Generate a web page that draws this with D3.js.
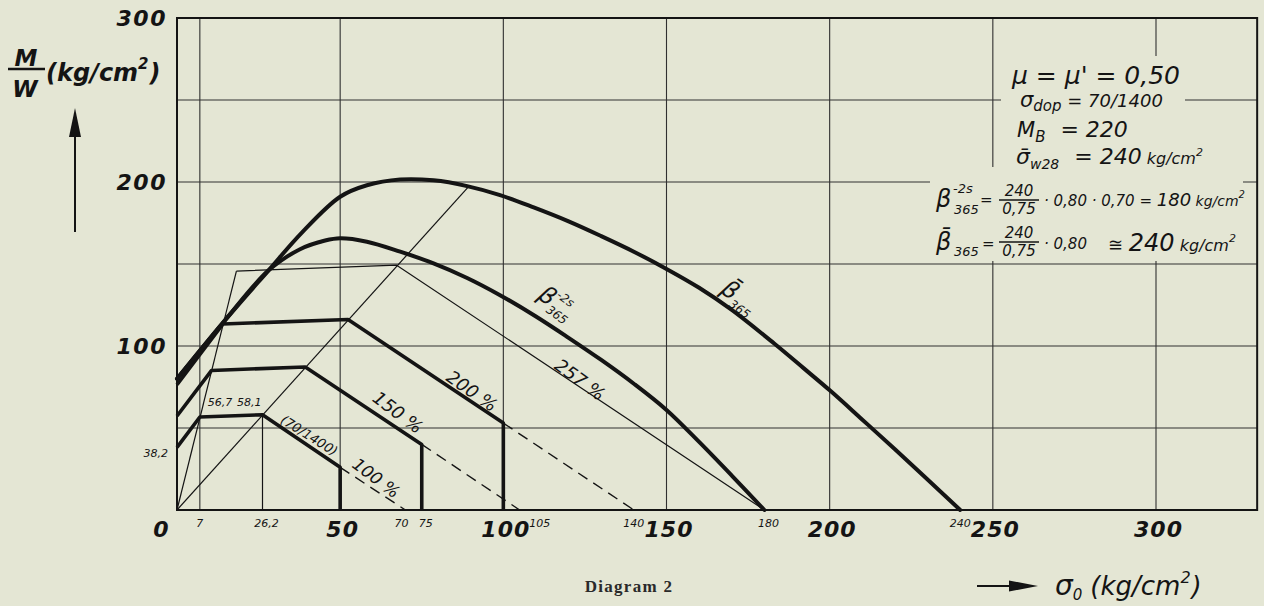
<!DOCTYPE html>
<html>
<head>
<meta charset="utf-8">
<script src="https://cdn.jsdelivr.net/npm/d3@7"></script>
<style>
  html, body { margin: 0; padding: 0; background: #e4e6d4; }
  svg { display: block; }
</style>
</head>
<body>
<svg id="chart" width="1264" height="606"></svg>
<script>
// values: x = sigma_0, y = M/W (both kg/cm2)
const xTickLabels = [0, 50, 100, 150, 200, 250, 300];
const yTickLabels = [100, 200, 300];
const xGridValues = [7, 50, 100, 150, 200, 250, 300];
const yGridValues = [50, 100, 150, 200, 250];
const xSmallValues = [7, 26.2, 70, 75, 105, 140, 180, 240];
const xSmallLabels = ['7', '26,2', '70', '75', '105', '140', '180', '240'];

// allowable-stress polylines (70/1400) at 100 %, 150 %, 200 %, 257 %
const allow100 = [[0, 38.2], [7, 56.7], [26.2, 58.1], [50, 26], [50, 0]];
const allow150 = [[0, 57.3], [10.6, 85.1], [39.3, 87.2], [75, 40], [75, 0]];
const allow200 = [[0, 76.4], [14.1, 113.4], [52.4, 116.2], [100, 53], [100, 0]];
const allow257 = [[18.2, 145.7], [67.3, 149.3], [180, 0]];
const tail100 = [[50, 26], [70, 0]];
const tail150 = [[75, 40], [105, 0]];
const tail200 = [[100, 53], [140, 0]];

// construction rays from the origin and the 26,2 ordinate
const rayPlateauStart = [[0, 0], [18.2, 145.7]];
const rayPlateauEnd = [[0, 0], [89.5, 197.5]];
const ordinate262 = [[26.2, 0], [26.2, 58.1]];

// failure curves
const betaMean = [[0, 80], [14.2, 114.5], [28, 146], [38.2, 169], [50, 191], [58.2, 198],
  [68.4, 201.5], [78.6, 201], [88.9, 197.5], [99, 192], [109.3, 184.5], [120, 176],
  [130, 167], [140, 157.5], [150, 147], [160, 135.5], [170, 122], [183, 101.5],
  [192, 86.5], [200.3, 72.5], [209.5, 56], [220, 37], [240, 0]];
const beta2s = [[0, 80], [14.2, 114.5], [28, 146], [37.7, 159], [45.4, 164.3], [50, 165.7],
  [58.2, 163.6], [68.4, 157.5], [78.6, 150.4], [88.9, 141.5], [99, 131], [110, 118],
  [120, 105], [130, 91.5], [140, 77], [150, 61], [160, 41.5], [170, 21], [180, 0]];

const ink = '#141414';
const paper = '#e4e6d4';
const numFont = '"DejaVu Sans", sans-serif';

const svg = d3.select('#chart');
svg.append('rect').attr('width', 1264).attr('height', 606).attr('fill', paper);

const x = d3.scaleLinear().domain([0, 300]).range([177, 1156]);
const y = d3.scaleLinear().domain([0, 300]).range([510, 18]);
const xEdge = 331; // right border of the frame, in sigma_0 units

// grid
const grid = svg.append('g').attr('stroke', '#303030').attr('stroke-width', 1.1);
grid.selectAll('line.v').data(xGridValues).enter().append('line')
  .attr('x1', d => x(d)).attr('x2', d => x(d))
  .attr('y1', y(0)).attr('y2', y(300));
grid.selectAll('line.h').data(yGridValues).enter().append('line')
  .attr('x1', x(0)).attr('x2', x(xEdge))
  .attr('y1', d => y(d)).attr('y2', d => y(d));

// the formula block sits on a clear patch of the grid
svg.append('rect').attr('x', 1001).attr('y', 56).attr('width', 184).attr('height', 112).attr('fill', paper);
svg.append('rect').attr('x', 930).attr('y', 167).attr('width', 313).attr('height', 94).attr('fill', paper);

// frame
svg.append('rect')
  .attr('x', x(0)).attr('y', y(300))
  .attr('width', x(xEdge) - x(0)).attr('height', y(0) - y(300))
  .attr('fill', 'none').attr('stroke', ink).attr('stroke-width', 2);

const line = d3.line().x(d => x(d[0])).y(d => y(d[1]));
const smooth = d3.line().x(d => x(d[0])).y(d => y(d[1])).curve(d3.curveCatmullRom.alpha(0.5));

const marks = svg.append('g').attr('fill', 'none').attr('stroke', ink)
  .attr('stroke-linejoin', 'round');

// thin construction lines
[rayPlateauStart, rayPlateauEnd, ordinate262, allow257].forEach(pts => {
  marks.append('path').attr('d', line(pts)).attr('stroke-width', 1.2);
});
// dashed continuations
[tail100, tail150, tail200].forEach(pts => {
  marks.append('path').attr('d', line(pts)).attr('stroke-width', 1.4)
    .attr('stroke-dasharray', '11,7');
});
// thick allowable-stress lines
[allow100, allow150, allow200].forEach(pts => {
  marks.append('path').attr('d', line(pts)).attr('stroke-width', 3.6);
});
// failure curves
[betaMean, beta2s].forEach(pts => {
  marks.append('path').attr('d', smooth(pts)).attr('stroke-width', 4)
    .attr('stroke-linecap', 'round');
});

// axes (labels only)
const xAxis = svg.append('g').attr('transform', `translate(0,${y(0)})`)
  .call(d3.axisBottom(x).tickValues(xTickLabels).tickSize(0).tickFormat(d3.format('d')));
xAxis.select('.domain').remove();
xAxis.selectAll('text')
  .attr('y', 27).attr('dy', 0)
  .attr('x', d => d === 0 ? -16 : 2)
  .attr('fill', ink)
  .style('font', `italic bold 22px ${numFont}`)
  .style('letter-spacing', '1px');

const yAxis = svg.append('g').attr('transform', `translate(${x(0)},0)`)
  .call(d3.axisLeft(y).tickValues(yTickLabels).tickSize(0).tickPadding(10));
yAxis.select('.domain').remove();
yAxis.selectAll('text')
  .attr('dy', '0.36em')
  .attr('fill', ink)
  .style('font', `italic bold 22px ${numFont}`)
  .style('letter-spacing', '1.5px');

// small values along the sigma_0 axis
const smallShift = { 70: -4, 75: 4, 105: 20, 26.2: 4, 180: 4 };
svg.append('g').selectAll('text').data(xSmallValues).enter().append('text')
  .attr('x', d => x(d) + (smallShift[d] || 0))
  .attr('y', y(0) + 17)
  .attr('text-anchor', 'middle')
  .attr('fill', ink)
  .style('font', `italic 11px ${numFont}`)
  .text((d, i) => xSmallLabels[i]);

// small values at the 100 % line
const smallText = (tx, ty, s, anchor) => svg.append('text')
  .attr('x', tx).attr('y', ty).attr('text-anchor', anchor || 'start')
  .attr('fill', ink).style('font', `italic 11px ${numFont}`).text(s);
smallText(x(0) - 9, y(38.2) + 10, '38,2', 'end');
smallText(x(7) + 8, y(58.1) - 9, '56,7', 'start');
smallText(x(26.2) - 1, y(58.1) - 9, '58,1', 'end');

// labels written along the lines
function slanted(cx, cy, angle) {
  return svg.append('g').attr('transform', `translate(${x(cx)},${y(cy)}) rotate(${angle})`)
    .attr('fill', ink);
}
const lineLabels = [
  { s: '(70/1400)', at: [40.5, 45.5], a: 32, size: 13 },
  { s: '100 %', at: [61, 19.5], a: 37, size: 17 },
  { s: '150 %', at: [67.7, 59.5], a: 37, size: 18 },
  { s: '200 %', at: [90.4, 72.5], a: 35, size: 18 },
  { s: '257 %', at: [123.5, 79.5], a: 36, size: 18 }
];
lineLabels.forEach(l => {
  slanted(l.at[0], l.at[1], l.a).append('text')
    .attr('text-anchor', 'middle').attr('dy', '0.35em')
    .style('font', `italic ${l.size}px ${numFont}`).text(l.s);
});

// beta labels
const bl = slanted(115, 127, 36);
bl.append('text').attr('x', -15).attr('y', 6).style('font', `italic 24px ${numFont}`).text('β');
bl.append('text').attr('x', 0).attr('y', -6).style('font', `italic 12px ${numFont}`).text('-2s');
bl.append('text').attr('x', 0).attr('y', 12).style('font', `italic 12px ${numFont}`).text('365');
const bm = slanted(171, 130.5, 36);
bm.append('text').attr('x', -15).attr('y', 6).style('font', `italic 24px ${numFont}`).text('β\u0304');
bm.append('text').attr('x', 0).attr('y', 12).style('font', `italic 12px ${numFont}`).text('365');

// y title
const yt = svg.append('g').attr('fill', ink).style('font', `italic bold 23px ${numFont}`);
yt.append('text').attr('x', 26).attr('y', 66).attr('text-anchor', 'middle').text('M');
yt.append('line').attr('x1', 8).attr('x2', 45).attr('y1', 69).attr('y2', 69)
  .attr('stroke', ink).attr('stroke-width', 2.5);
yt.append('text').attr('x', 25).attr('y', 97).attr('text-anchor', 'middle').text('W');
const ytk = yt.append('text').attr('x', 46).attr('y', 81).style('font-size', '24px');
ytk.append('tspan').text('(kg/cm');
ytk.append('tspan').attr('dy', -12).style('font-size', '15px').text('2');
ytk.append('tspan').attr('dy', 12).attr('dx', 1).text(')');
svg.append('line').attr('x1', 75).attr('x2', 75).attr('y1', 232).attr('y2', 130)
  .attr('stroke', ink).attr('stroke-width', 2);
svg.append('path').attr('d', 'M75,108 L69,137 L81,137 Z').attr('fill', ink);

// x title
svg.append('line').attr('x1', 977).attr('x2', 1015).attr('y1', 586).attr('y2', 586)
  .attr('stroke', ink).attr('stroke-width', 2);
svg.append('path').attr('d', 'M1038,586 L1009,580.5 L1009,591.5 Z').attr('fill', ink);
const xt = svg.append('text').attr('x', 1055).attr('y', 595).attr('fill', ink)
  .style('font', `italic 28px ${numFont}`);
xt.append('tspan').text('σ');
xt.append('tspan').attr('dy', 5).style('font-size', '15px').text('0');
xt.append('tspan').attr('dy', -5).attr('dx', 8).style('font-size', '26px').text('(kg/cm');
xt.append('tspan').attr('dy', -12).style('font-size', '16px').text('2');
xt.append('tspan').attr('dy', 12).attr('dx', 1).style('font-size', '26px').text(')');

// caption
svg.append('text').attr('x', 629).attr('y', 592).attr('text-anchor', 'middle')
  .attr('fill', '#2a2a2a').style('font', 'bold 17px "Liberation Serif", serif')
  .style('letter-spacing', '1.3px').text('Diagram 2');

// formula block
const fb = svg.append('g').attr('fill', ink).style('font-family', numFont).style('font-style', 'italic');
function rich(tx, ty, parts) {
  const t = fb.append('text').attr('x', tx).attr('y', ty);
  parts.forEach(p => {
    const sp = t.append('tspan').text(p[0]).style('font-size', p[1] + 'px');
    if (p[2]) sp.attr('dy', p[2]);
    if (p[3]) sp.attr('dx', p[3]);
  });
  return t;
}
rich(1012, 84, [['μ = μ\' = 0,50', 25]]);
rich(1020, 107, [['σ', 21], ['dop', 15, 4], [' = 70/1400', 18, -4]]);
rich(1017, 137, [['M', 21], ['B', 15, 5], [' = 220', 22, -5, 8]]);
rich(1016, 164, [['σ\u0304', 22], ['w28', 14, 5], [' = 240', 22, -5, 8], [' kg/cm', 16], ['2', 11, -8], ['', 16, 8]]);

function fraction(cx, ty, top, bottom, size) {
  fb.append('text').attr('x', cx).attr('y', ty - 6).attr('text-anchor', 'middle')
    .style('font-size', size + 'px').text(top);
  fb.append('line').attr('x1', cx - 20).attr('x2', cx + 20).attr('y1', ty - 2).attr('y2', ty - 2)
    .attr('stroke', ink).attr('stroke-width', 1.3);
  fb.append('text').attr('x', cx).attr('y', ty + 12).attr('text-anchor', 'middle')
    .style('font-size', size + 'px').text(bottom);
}
// beta_365^-2s line
rich(936, 207, [['β', 24]]);
rich(953, 193, [['-2s', 13]]);
rich(954, 214, [['365', 13]]);
rich(980, 205, [['=', 15]]);
fraction(1019, 202, '240', '0,75', 15);
rich(1044, 206, [['· 0,80 · 0,70 = ', 15], ['180', 18], [' kg/cm', 14], ['2', 10, -8], ['', 14, 8]]);
// beta bar line
rich(936, 250, [['β\u0304', 24]]);
rich(954, 256, [['365', 13]]);
rich(982, 249, [['=', 15]]);
fraction(1019, 244, '240', '0,75', 15);
rich(1044, 249, [['· 0,80', 15]]);
rich(1108, 251, [['≅ ', 18], ['240', 24], [' kg/cm', 16], ['2', 11, -9], ['', 16, 9]]);
</script>
</body>
</html>
